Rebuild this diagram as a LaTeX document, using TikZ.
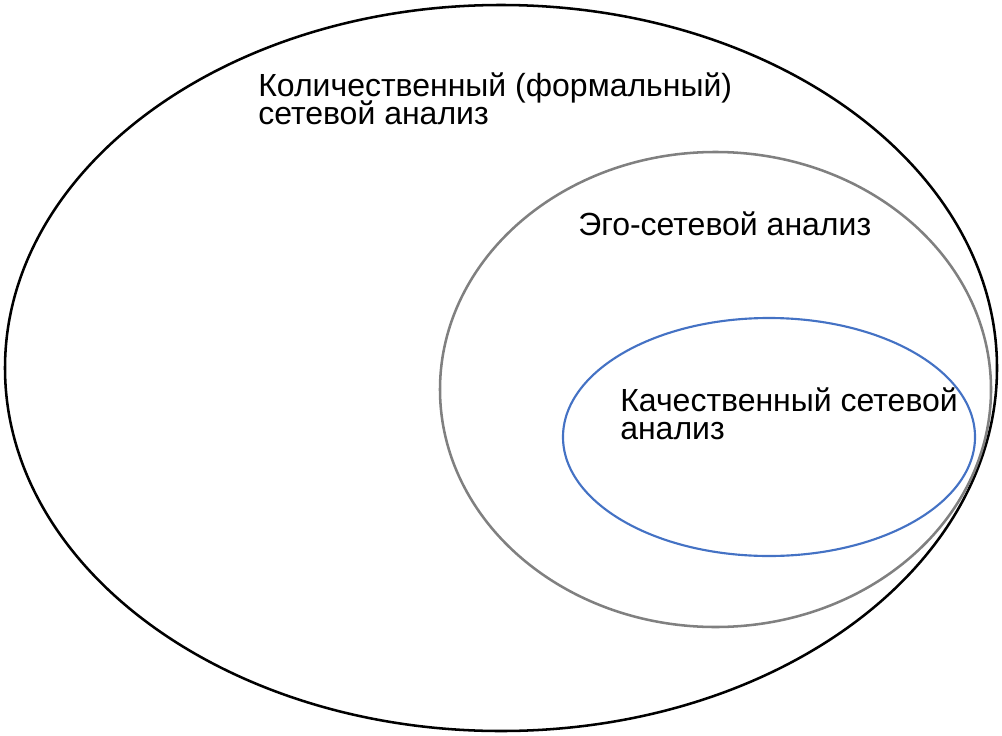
\documentclass[tikz,border=0pt]{standalone}
\usepackage{fontspec}
\setmainfont{Liberation Sans}
\usetikzlibrary{positioning}
\definecolor{sinij}{RGB}{68,114,196}
\newcommand{\tesnostrok}{\lineskiplimit=-30pt\relax}

\begin{document}
\begin{tikzpicture}[
      x=0.75pt, y=-0.75pt,
      krug/.style={line width=1.9pt},
      metka/.style={anchor=base west, inner sep=0pt, align=left, font=\fontsize{24}{20.8}\selectfont\tesnostrok}
  ]
      \useasboundingbox (0,0) rectangle (1002,735);

      % Ellipses
      \draw[krug, black] (501,368) ellipse [x radius=496, y radius=363];
      \draw[krug, gray] (715.5,389.5) ellipse [x radius=275.5, y radius=237.5];
      \draw[krug, line width=1.6pt, sinij] (769,437) ellipse [x radius=206, y radius=119];

      % Labels
      \node[metka] (kolich) at (258,124) {Количественный (формальный)\\сетевой анализ};
      \node[metka] (ego) at (578,235) {Эго-сетевой анализ};
      \node[metka] (kachest) at (620,439) {Качественный сетевой\\анализ};

  \end{tikzpicture}
\end{document}
